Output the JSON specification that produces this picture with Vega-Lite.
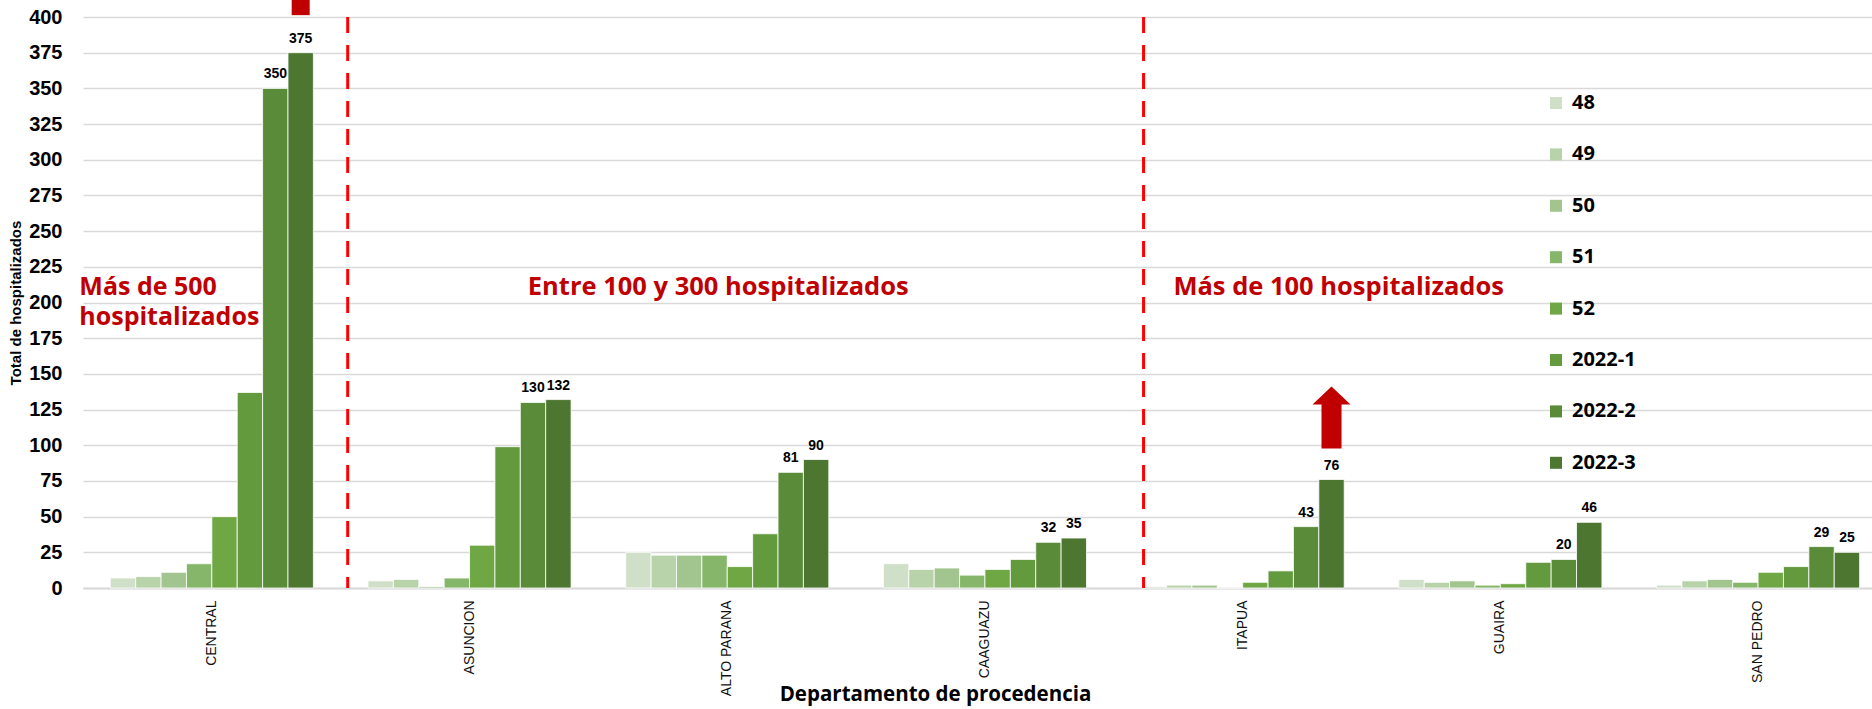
{
  "$schema": "https://vega.github.io/schema/vega-lite/v6.json",
  "width": 1789,
  "height": 571,
  "autosize": {"type": "none"},
  "padding": {"left": 83, "top": 17, "right": 0, "bottom": 121},
  "background": "white",
  "config": {
    "view": {"stroke": null},
    "font": "Liberation Sans",
    "axisY": {
      "titleFont": "Liberation Sans",
      "titleFontSize": 15,
      "titleFontWeight": "bold",
      "titleColor": "black",
      "titleX": -68,
      "titleY": 285.5,
      "titleAngle": -90,
      "titleAlign": "center",
      "titleBaseline": "middle",
      "labelFont": "Liberation Sans",
      "labelFontSize": 20,
      "labelFontWeight": "bold",
      "labelColor": "black",
      "labelPadding": 21,
      "labelOverlap": false,
      "labelFlush": false,
      "ticks": false,
      "domain": false,
      "grid": true,
      "gridColor": "#d9d9d9",
      "gridWidth": 1.5
    }
  },
  "datasets": {
    "hosp": [
      {"dep": "CENTRAL", "sem": "48", "n": 7},
      {"dep": "CENTRAL", "sem": "49", "n": 8},
      {"dep": "CENTRAL", "sem": "50", "n": 11},
      {"dep": "CENTRAL", "sem": "51", "n": 17},
      {"dep": "CENTRAL", "sem": "52", "n": 50},
      {"dep": "CENTRAL", "sem": "2022-1", "n": 137},
      {"dep": "CENTRAL", "sem": "2022-2", "n": 350},
      {"dep": "CENTRAL", "sem": "2022-3", "n": 375},
      {"dep": "ASUNCION", "sem": "48", "n": 5},
      {"dep": "ASUNCION", "sem": "49", "n": 6},
      {"dep": "ASUNCION", "sem": "50", "n": 1},
      {"dep": "ASUNCION", "sem": "51", "n": 7},
      {"dep": "ASUNCION", "sem": "52", "n": 30},
      {"dep": "ASUNCION", "sem": "2022-1", "n": 99},
      {"dep": "ASUNCION", "sem": "2022-2", "n": 130},
      {"dep": "ASUNCION", "sem": "2022-3", "n": 132},
      {"dep": "ALTO PARANA", "sem": "48", "n": 25},
      {"dep": "ALTO PARANA", "sem": "49", "n": 23},
      {"dep": "ALTO PARANA", "sem": "50", "n": 23},
      {"dep": "ALTO PARANA", "sem": "51", "n": 23},
      {"dep": "ALTO PARANA", "sem": "52", "n": 15},
      {"dep": "ALTO PARANA", "sem": "2022-1", "n": 38},
      {"dep": "ALTO PARANA", "sem": "2022-2", "n": 81},
      {"dep": "ALTO PARANA", "sem": "2022-3", "n": 90},
      {"dep": "CAAGUAZU", "sem": "48", "n": 17},
      {"dep": "CAAGUAZU", "sem": "49", "n": 13},
      {"dep": "CAAGUAZU", "sem": "50", "n": 14},
      {"dep": "CAAGUAZU", "sem": "51", "n": 9},
      {"dep": "CAAGUAZU", "sem": "52", "n": 13},
      {"dep": "CAAGUAZU", "sem": "2022-1", "n": 20},
      {"dep": "CAAGUAZU", "sem": "2022-2", "n": 32},
      {"dep": "CAAGUAZU", "sem": "2022-3", "n": 35},
      {"dep": "ITAPUA", "sem": "48", "n": 1},
      {"dep": "ITAPUA", "sem": "49", "n": 2},
      {"dep": "ITAPUA", "sem": "50", "n": 2},
      {"dep": "ITAPUA", "sem": "51", "n": 0},
      {"dep": "ITAPUA", "sem": "52", "n": 4},
      {"dep": "ITAPUA", "sem": "2022-1", "n": 12},
      {"dep": "ITAPUA", "sem": "2022-2", "n": 43},
      {"dep": "ITAPUA", "sem": "2022-3", "n": 76},
      {"dep": "GUAIRA", "sem": "48", "n": 6},
      {"dep": "GUAIRA", "sem": "49", "n": 4},
      {"dep": "GUAIRA", "sem": "50", "n": 5},
      {"dep": "GUAIRA", "sem": "51", "n": 2},
      {"dep": "GUAIRA", "sem": "52", "n": 3},
      {"dep": "GUAIRA", "sem": "2022-1", "n": 18},
      {"dep": "GUAIRA", "sem": "2022-2", "n": 20},
      {"dep": "GUAIRA", "sem": "2022-3", "n": 46},
      {"dep": "SAN PEDRO", "sem": "48", "n": 2},
      {"dep": "SAN PEDRO", "sem": "49", "n": 5},
      {"dep": "SAN PEDRO", "sem": "50", "n": 6},
      {"dep": "SAN PEDRO", "sem": "51", "n": 4},
      {"dep": "SAN PEDRO", "sem": "52", "n": 11},
      {"dep": "SAN PEDRO", "sem": "2022-1", "n": 15},
      {"dep": "SAN PEDRO", "sem": "2022-2", "n": 29},
      {"dep": "SAN PEDRO", "sem": "2022-3", "n": 25}
    ],
    "note500": [{"dep": "CENTRAL", "t": ["Más de 500", "hospitalizados"]}],
    "note300": [{"dep": "ALTO PARANA", "t": "Entre 100 y 300 hospitalizados"}],
    "note100": [{"dep": "ITAPUA", "t": "Más de 100 hospitalizados"}],
    "div1": [{"dep": "ASUNCION"}],
    "div2": [{"dep": "ITAPUA"}],
    "arrowItapua": [{"dep": "ITAPUA", "sem": "2022-3"}],
    "arrowCentral": [{"dep": "CENTRAL", "sem": "2022-3"}]
  },
  "encoding": {
    "x": {
      "field": "dep",
      "type": "nominal",
      "scale": {
        "domain": ["CENTRAL", "ASUNCION", "ALTO PARANA", "CAAGUAZU", "ITAPUA", "GUAIRA", "SAN PEDRO"],
        "paddingInner": 0.212,
        "paddingOuter": 0.077,
        "align": 0.688
      },
      "axis": {
        "title": "Departamento de procedencia",
        "titleFont": "Open Sans",
        "titleFontSize": 20.5,
        "titleFontWeight": "bold",
        "titleColor": "black",
        "titleX": 852,
        "titleY": 106,
        "titleAlign": "center",
        "titleBaseline": "middle",
        "labelAngle": -90,
        "labelAlign": "right",
        "labelBaseline": "middle",
        "labelPadding": 12,
        "labelFont": "Liberation Sans",
        "labelFontSize": 14,
        "labelColor": "#111111",
        "labelOverlap": false,
        "ticks": false,
        "domain": true,
        "domainColor": "#d9d9d9",
        "domainWidth": 2,
        "grid": false
      }
    }
  },
  "layer": [
    {
      "data": {"name": "hosp"},
      "mark": {"type": "bar", "stroke": "white", "strokeWidth": 0.8},
      "encoding": {
        "xOffset": {
          "field": "sem",
          "type": "nominal",
          "scale": {"domain": ["48", "49", "50", "51", "52", "2022-1", "2022-2", "2022-3"], "paddingInner": 0, "paddingOuter": 0}
        },
        "y": {
          "field": "n",
          "type": "quantitative",
          "scale": {"domain": [0, 400], "nice": false},
          "axis": {"title": "Total de hospitalizados", "values": [0, 25, 50, 75, 100, 125, 150, 175, 200, 225, 250, 275, 300, 325, 350, 375, 400]}
        },
        "color": {
          "field": "sem",
          "type": "nominal",
          "scale": {
            "domain": ["48", "49", "50", "51", "52", "2022-1", "2022-2", "2022-3"],
            "range": ["#d0dfc7", "#b8d3aa", "#a2c48e", "#86b66a", "#6fa744", "#649a3e", "#5a8b39", "#4d7631"]
          },
          "legend": {
            "orient": "none",
            "legendX": 1463,
            "legendY": 76,
            "direction": "vertical",
            "title": null,
            "symbolType": "square",
            "symbolSize": 144,
            "symbolStrokeWidth": 0,
            "symbolOpacity": 1,
            "labelFont": "Open Sans",
            "labelFontSize": 20,
            "labelFontWeight": "bold",
            "labelColor": "black",
            "labelOffset": 6,
            "rowPadding": 31.4,
            "padding": 0,
            "labelLimit": 300
          }
        }
      }
    },
    {
      "data": {"name": "hosp"},
      "transform": [{"filter": {"field": "sem", "oneOf": ["2022-2", "2022-3"]}}],
      "mark": {"type": "text", "baseline": "alphabetic", "dy": -10, "fontSize": 14, "fontWeight": "bold", "font": "Liberation Sans", "color": "black"},
      "encoding": {
        "xOffset": {"field": "sem", "type": "nominal"},
        "y": {"field": "n", "type": "quantitative", "axis": {"title": "Total de hospitalizados", "values": [0, 25, 50, 75, 100, 125, 150, 175, 200, 225, 250, 275, 300, 325, 350, 375, 400]}},
        "text": {"field": "n", "type": "quantitative"}
      }
    },
    {
      "data": {"name": "div1"},
      "mark": {"type": "rule", "color": "#ff0000", "strokeWidth": 3, "strokeDash": [16, 12]},
      "encoding": {
        "x": {"field": "dep", "type": "nominal", "bandPosition": -0.1},
        "y": {"datum": 400, "axis": {"title": "Total de hospitalizados", "values": [0, 25, 50, 75, 100, 125, 150, 175, 200, 225, 250, 275, 300, 325, 350, 375, 400]}},
        "y2": {"datum": 0}
      }
    },
    {
      "data": {"name": "div2"},
      "mark": {"type": "rule", "color": "#ff0000", "strokeWidth": 3, "strokeDash": [16, 12]},
      "encoding": {
        "x": {"field": "dep", "type": "nominal", "bandPosition": 0.012},
        "y": {"datum": 400, "axis": {"title": "Total de hospitalizados", "values": [0, 25, 50, 75, 100, 125, 150, 175, 200, 225, 250, 275, 300, 325, 350, 375, 400]}},
        "y2": {"datum": 0}
      }
    },
    {
      "data": {"name": "arrowItapua"},
      "mark": {"type": "point", "filled": true, "opacity": 1, "color": "#c00000", "strokeWidth": 0, "size": 3844, "shape": "M 0 -1 L 0.613 -0.423 L 0.323 -0.423 L 0.323 1 L -0.323 1 L -0.323 -0.423 L -0.613 -0.423 Z"},
      "encoding": {
        "xOffset": {"field": "sem", "type": "nominal"},
        "y": {"datum": 119.4, "axis": {"title": "Total de hospitalizados", "values": [0, 25, 50, 75, 100, 125, 150, 175, 200, 225, 250, 275, 300, 325, 350, 375, 400]}}
      }
    },
    {
      "data": {"name": "arrowCentral"},
      "mark": {"type": "rule", "color": "#c00000", "strokeWidth": 18},
      "encoding": {
        "xOffset": {"field": "sem", "type": "nominal"},
        "y": {"datum": 401.3, "axis": {"title": "Total de hospitalizados", "values": [0, 25, 50, 75, 100, 125, 150, 175, 200, 225, 250, 275, 300, 325, 350, 375, 400]}},
        "y2": {"datum": 425}
      }
    },
    {
      "data": {"name": "note500"},
      "mark": {"type": "text", "align": "left", "baseline": "alphabetic", "dx": -31, "lineHeight": 29.5, "font": "Open Sans", "fontSize": 25, "fontWeight": "bold", "color": "#c00000"},
      "encoding": {
        "x": {"field": "dep", "type": "nominal", "bandPosition": 0},
        "y": {"datum": 205.2, "axis": {"title": "Total de hospitalizados", "values": [0, 25, 50, 75, 100, 125, 150, 175, 200, 225, 250, 275, 300, 325, 350, 375, 400]}},
        "text": {"field": "t"}
      }
    },
    {
      "data": {"name": "note300"},
      "mark": {"type": "text", "align": "center", "baseline": "alphabetic", "dx": -9, "font": "Open Sans", "fontSize": 25.5, "fontWeight": "bold", "color": "#c00000"},
      "encoding": {
        "y": {"datum": 205.2, "axis": {"title": "Total de hospitalizados", "values": [0, 25, 50, 75, 100, 125, 150, 175, 200, 225, 250, 275, 300, 325, 350, 375, 400]}},
        "text": {"field": "t"}
      }
    },
    {
      "data": {"name": "note100"},
      "mark": {"type": "text", "align": "center", "baseline": "alphabetic", "dx": 96, "font": "Open Sans", "fontSize": 25.5, "fontWeight": "bold", "color": "#c00000"},
      "encoding": {
        "y": {"datum": 205.2, "axis": {"title": "Total de hospitalizados", "values": [0, 25, 50, 75, 100, 125, 150, 175, 200, 225, 250, 275, 300, 325, 350, 375, 400]}},
        "text": {"field": "t"}
      }
    }
  ]
}
